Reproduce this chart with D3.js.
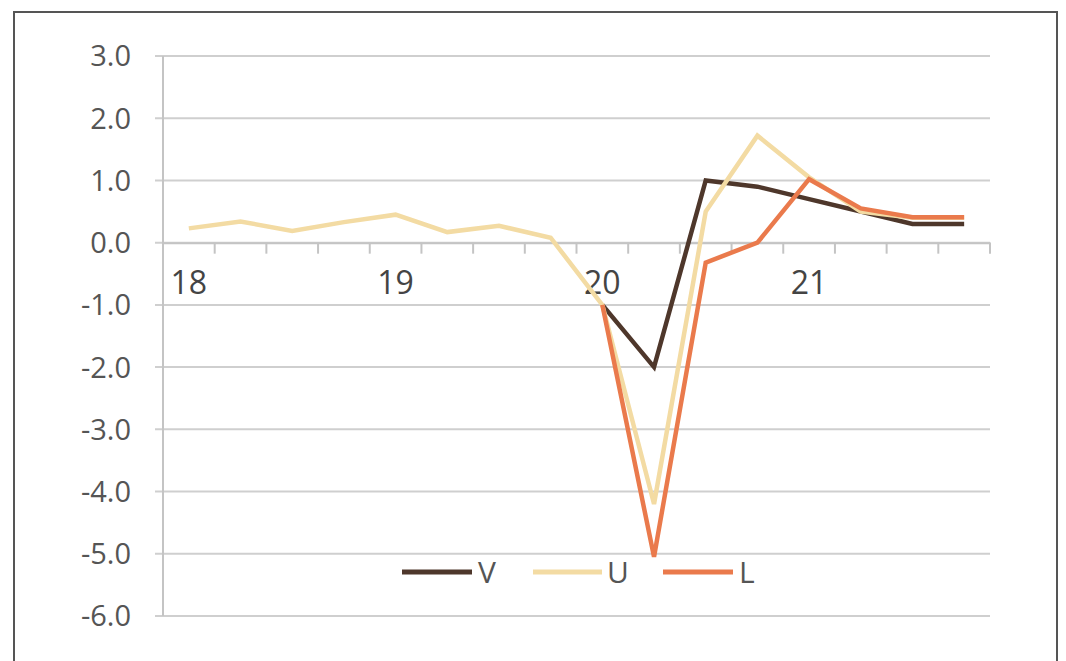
<!DOCTYPE html>
<html>
<head>
<meta charset="utf-8">
<script src="https://cdn.jsdelivr.net/npm/d3@7"></script>
<style>
  body { margin: 0; background: #fff; }
  svg { display: block; }
</style>
</head>
<body>
<svg id="chart" width="1066" height="661"></svg>
<script>
// Quarterly categories 2018Q1 .. 2021Q4
const categories = ["2018Q1","2018Q2","2018Q3","2018Q4","2019Q1","2019Q2","2019Q3","2019Q4",
                    "2020Q1","2020Q2","2020Q3","2020Q4","2021Q1","2021Q2","2021Q3","2021Q4"];
const xTickLabels = {"2018Q1":"18","2019Q1":"19","2020Q1":"20","2021Q1":"21"};
const yTicks = [3, 2, 1, 0, -1, -2, -3, -4, -5, -6];

const seriesNames = ["V", "U", "L"];
const valuesV = [null,null,null,null,null,null,null,null, -1.0, -2.0, 1.0, 0.9, 0.7, 0.5, 0.3, 0.3];
const valuesU = [0.23, 0.34, 0.19, 0.33, 0.45, 0.17, 0.27, 0.08, -1.0, -4.2, 0.5, 1.72, 1.05, 0.5, 0.4, 0.4];
const valuesL = [null,null,null,null,null,null,null,null, -1.0, -5.05, -0.32, 0.0, 1.02, 0.55, 0.41, 0.41];
const colors = { V: "#4e372b", U: "#f3dba3", L: "#ea7a4c" };

const svg = d3.select("#chart");

// frame
svg.append("rect").attr("x", 14).attr("y", 12).attr("width", 1043).attr("height", 680)
  .attr("fill", "#fff").attr("stroke", "#555").attr("stroke-width", 2);

const x = d3.scaleBand().domain(categories).range([163, 990]).padding(0);
const y = d3.scaleLinear().domain([-6, 3]).range([616, 56]);

// gridlines
svg.append("g").selectAll("line").data(yTicks).join("line")
  .attr("x1", 155).attr("x2", 990)
  .attr("y1", d => y(d)).attr("y2", d => y(d))
  .attr("stroke", "#cfcfcf").attr("stroke-width", 2);

// y axis line
svg.append("line").attr("x1", 163).attr("x2", 163).attr("y1", y(3)).attr("y2", y(-6))
  .attr("stroke", "#c4c4c4").attr("stroke-width", 2);

// y labels
svg.append("g").selectAll("text").data(yTicks).join("text")
  .attr("x", 131).attr("y", d => y(d)).attr("dy", "0.36em")
  .attr("text-anchor", "end")
  .attr("font-family", "Open Sans, sans-serif").attr("font-size", 29)
  .attr("fill", "#555")
  .text(d => d3.format(".1f")(d).replace("\u2212", "-"));

// x axis (category axis crossing at 0)
const xAxis = d3.axisBottom(x).tickSizeOuter(0).tickSizeInner(0).tickFormat(d => xTickLabels[d] || "");
const gx = svg.append("g").attr("transform", `translate(0,${y(0)})`).call(xAxis);
gx.select(".domain").attr("stroke", "#c4c4c4").attr("stroke-width", 2);
gx.selectAll(".tick line").remove();
gx.selectAll(".tick text")
  .attr("y", 40).attr("dy", "0.36em")
  .attr("font-family", "Open Sans, sans-serif").attr("font-size", 32).attr("fill", "#444");
gx.attr("font-size", null).attr("font-family", null);
// tick marks between categories
const boundaries = categories.map(c => x(c)).slice(1).concat([x.range()[1]]);
svg.append("g").selectAll("line").data(boundaries).join("line")
  .attr("x1", d => d).attr("x2", d => d)
  .attr("y1", y(0)).attr("y2", y(0) + 11)
  .attr("stroke", "#c4c4c4").attr("stroke-width", 2);

// lines
const line = d3.line()
  .defined(d => d.v !== null)
  .x(d => x(d.c) + x.bandwidth() / 2)
  .y(d => y(d.v));

const seriesData = { V: valuesV, U: valuesU, L: valuesL };
seriesNames.forEach(name => {
  const data = categories.map((c, i) => ({ c, v: seriesData[name][i] }));
  svg.append("path").datum(data)
    .attr("d", line)
    .attr("fill", "none")
    .attr("stroke", colors[name])
    .attr("stroke-width", 4.5)
    .attr("stroke-linejoin", "miter");
});

// legend
const legendItems = [
  { name: "V", x1: 402, x2: 472, tx: 478 },
  { name: "U", x1: 533, x2: 602, tx: 607 },
  { name: "L", x1: 663, x2: 733, tx: 739 }
];
const lg = svg.append("g");
legendItems.forEach(it => {
  lg.append("line").attr("x1", it.x1).attr("x2", it.x2).attr("y1", 572).attr("y2", 572)
    .attr("stroke", colors[it.name]).attr("stroke-width", 5);
  lg.append("text").attr("x", it.tx).attr("y", 572).attr("dy", "0.36em")
    .attr("font-family", "Open Sans, sans-serif").attr("font-size", 30).attr("fill", "#555")
    .text(it.name);
});
</script>
</body>
</html>
